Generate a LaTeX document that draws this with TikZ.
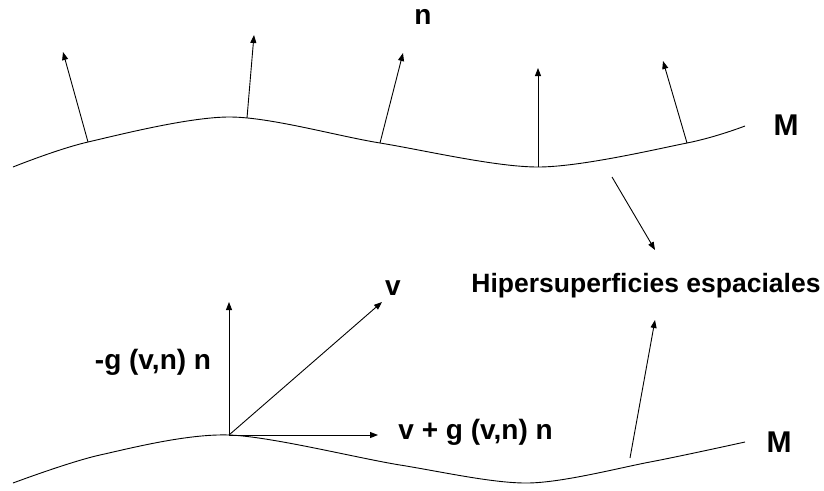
\documentclass[tikz,border=0pt]{standalone}
\usepackage{fontspec}
\setmainfont{Liberation Sans}
\usetikzlibrary{arrows.meta}
\tikzset{
  vec/.style={-{Triangle[length=8pt,width=6pt]}},
  lbl/.style={font=\fontsize{28}{32}\selectfont\bfseries, inner sep=0pt},
}
\begin{document}
\begin{tikzpicture}[x=1pt,y=-1pt,line width=0.9pt]
\useasboundingbox (0,0) rectangle (824,490);

\draw plot[smooth] coordinates {(13,167) (88,142) (230,117) (380,143) (538,167) (687,143) (745,126)};
\draw plot[smooth] coordinates {(13,483) (100,455) (229,435) (400,465) (528,483) (650,462) (745,442)};

\coordinate (b1) at (88,142);
\coordinate (b2) at (247,118);
\coordinate (b3) at (380,143);
\coordinate (b4) at (538,167);
\coordinate (b5) at (687,143);
\coordinate (t1) at (63,52);
\coordinate (t2) at (254,35);
\coordinate (t3) at (403,53);
\coordinate (t4) at (538,68);
\coordinate (t5) at (663,61);

\draw[vec] (b1) -- (t1);
\draw[vec] (b2) -- (t2);
\draw[vec] (b3) -- (t3);
\draw[vec] (b4) -- (t4);
\draw[vec] (b5) -- (t5);

\node[lbl] (n) at (423,17) {n};
\node[lbl,font=\fontsize{30}{34}\selectfont\bfseries] (M1) at (786,125) {M};
\node[lbl,font=\fontsize{30}{34}\selectfont\bfseries] (M2) at (779,442) {M};
\node[lbl,font=\fontsize{26.5}{30}\selectfont\bfseries] (hip) at (646,286) {Hipersuperficies espaciales};

\coordinate (p) at (229,435);
\coordinate (pv) at (382,302);
\coordinate (pn) at (229,302);
\coordinate (pt) at (378,435);
\draw[vec] (p) -- (pn);
\draw[vec] (p) -- (pv);
\draw[vec] (p) -- (pt);

\node[lbl] (v) at (393,288) {v};
\node[lbl] (gn) at (153,362) {-g (v,n) n};
\node[lbl,anchor=west] (vg) at (398,432) {v + g (v,n) n};

\coordinate (a1) at (612,177);
\coordinate (a2) at (655,250);
\coordinate (a3) at (630,458);
\coordinate (a4) at (655,320);
\draw[vec] (a1) -- (a2);
\draw[vec] (a3) -- (a4);
\end{tikzpicture}
\end{document}
